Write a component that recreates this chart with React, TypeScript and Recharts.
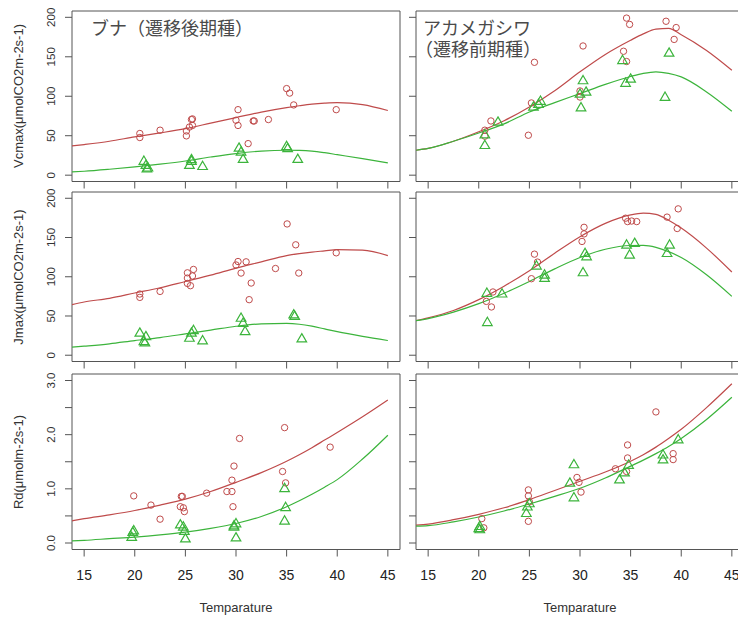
import { ComposedChart, Line, Scatter, XAxis, YAxis, ReferenceArea } from 'recharts';

// temperature grid the fitted curves were read at
const tempGrid = [13.8, 15, 17.5, 20, 22.5, 25, 27.5, 30, 32.5, 35, 36.25, 37.5, 38.75, 40, 42.5, 45];
const xTicks = [15, 20, 25, 30, 35, 40, 45];
const rateTicks = [0, 50, 100, 150, 200];
const rdTicks = [0, 0.5, 1, 1.5, 2, 2.5, 3];

type Pt = [number, number];

// ブナ Vcmax
const bunaVcmaxRed: Pt[] = [
  [20.5, 52.8], [20.5, 47.7], [22.5, 57], [25.1, 56], [25.1, 49.8], [25.4, 61], [25.6, 70.5],
  [25.7, 71.3], [25.7, 63], [30.0, 69.6], [30.2, 63], [30.2, 83], [31.2, 40], [31.7, 68.7],
  [31.8, 68.7], [33.2, 70.5], [35.0, 109.7], [35.3, 104], [35.7, 89], [39.9, 83],
];
const bunaVcmaxGreen: Pt[] = [
  [20.9, 18], [21.1, 12.7], [21.2, 8.5], [21.3, 9.5], [25.4, 12.7], [25.6, 20], [25.6, 18],
  [26.7, 11.4], [30.3, 34.6], [30.5, 29.5], [30.7, 20.3], [35.0, 36.7], [35.1, 34], [36.1, 20.3],
];
const bunaVcmaxRedCurve = [37, 38.8, 43, 48.5, 53.5, 59, 66, 73, 80, 85.7, 88, 90, 91.3, 92, 89.5, 82];
const bunaVcmaxGreenCurve = [4.2, 5, 7.5, 10.5, 14, 18, 23, 27.4, 30.5, 31.6, 31.4, 30.5, 28.5, 26, 21, 15.6];

// アカメガシワ Vcmax
const akaVcmaxRed: Pt[] = [
  [20.6, 57], [20.6, 49.4], [21.2, 68.7], [24.9, 50.6], [25.2, 91.5], [25.5, 143], [30.0, 106.7],
  [30.0, 99], [30.3, 163.7], [34.3, 157], [34.6, 199], [34.9, 191], [34.6, 144], [38.5, 195],
  [39.5, 187], [39.3, 172],
];
const akaVcmaxGreen: Pt[] = [
  [20.6, 51.5], [20.6, 38], [21.9, 67.5], [25.4, 86.5], [25.9, 90], [26.1, 94], [30.1, 85.7],
  [30.3, 120], [30.6, 105.5], [30.0, 103], [34.2, 145.6], [34.5, 116.8], [35.0, 122], [38.8, 155],
  [38.4, 99],
];
const akaVcmaxRedCurve = [31.6, 34, 43, 55, 69, 86.5, 107, 131, 153, 171, 179, 185, 186, 178, 158, 133];
const akaVcmaxGreenCurve = [31.6, 34, 43, 53.5, 65, 80, 92, 103.4, 115, 125, 129, 131, 129, 124.5, 105.5, 81];

// ブナ Jmax
const bunaJmaxRed: Pt[] = [
  [20.5, 78], [20.5, 73.7], [22.5, 81.3], [25.2, 105], [25.2, 98.3], [25.2, 91.5], [25.5, 88.6],
  [25.7, 101], [25.8, 109.3], [30.0, 115], [30.2, 119.4], [30.5, 104.7], [31.0, 119], [31.5, 92],
  [31.3, 70.8], [33.9, 110.5], [35.05, 167.3], [35.9, 140.7], [36.2, 104.7], [39.9, 130.5],
];
const bunaJmaxGreen: Pt[] = [
  [20.5, 28.5], [20.9, 17.8], [21.1, 24], [21.0, 16], [25.4, 22], [25.6, 28.5], [25.8, 31.8],
  [26.7, 18.7], [30.5, 47.5], [30.7, 41], [30.9, 30.5], [35.7, 51.7], [35.8, 50], [36.5, 21.2],
];
const bunaJmaxRedCurve = [64.4, 67.8, 72.5, 79.3, 86, 94, 102, 111, 119, 127, 129.5, 131.5, 133, 134.5, 134, 127];
const bunaJmaxGreenCurve = [10.2, 11.5, 14.5, 18.7, 22.5, 27.2, 32, 36.9, 40, 40.5, 39.5, 37, 33.5, 30, 24, 18.7];

// アカメガシワ Jmax
const akaJmaxRed: Pt[] = [
  [20.75, 68.6], [21.25, 61.5], [21.4, 80.6], [25.2, 97.5], [25.5, 128.8], [25.8, 118.7],
  [30.2, 145], [30.4, 154.6], [30.4, 163], [34.5, 174.6], [34.7, 170.3], [35.1, 171], [35.6, 170.3],
  [38.6, 176], [39.6, 161.5], [39.7, 186.5],
];
const akaJmaxGreen: Pt[] = [
  [20.85, 42], [20.8, 79.3], [22.3, 78.4], [25.7, 114], [26.5, 102.5], [26.5, 98.3], [30.3, 105.5],
  [30.5, 130], [30.65, 125.8], [34.6, 140.7], [34.9, 128], [35.4, 142.8], [38.6, 130], [38.85, 140.7],
];
const akaJmaxRedCurve = [44, 47.5, 57, 70.8, 88, 107.6, 130, 151, 168, 178.8, 181, 179.5, 172, 162, 136.5, 106];
const akaJmaxGreenCurve = [44, 46.7, 55, 65.7, 79, 94, 110, 124.5, 135, 139.8, 140, 137.5, 132, 124.5, 102.5, 75];

// ブナ Rd
const bunaRdRed: Pt[] = [
  [19.9, 0.87], [21.6, 0.7], [22.5, 0.44], [24.6, 0.86], [24.7, 0.86], [24.5, 0.67], [24.8, 0.65],
  [24.9, 0.58], [27.1, 0.92], [29.1, 0.95], [29.6, 0.95], [29.6, 1.16], [29.8, 1.42], [29.7, 0.67],
  [30.35, 1.93], [34.6, 1.32], [34.8, 2.13], [34.9, 1.11], [39.3, 1.77],
];
const bunaRdGreen: Pt[] = [
  [19.8, 0.2], [19.9, 0.23], [19.7, 0.11], [24.5, 0.34], [24.8, 0.3], [24.9, 0.22], [25.0, 0.08],
  [29.8, 0.3], [30.0, 0.36], [30.0, 0.1], [29.8, 0.32], [34.8, 1.01], [34.9, 0.66], [34.8, 0.41],
];
const bunaRdRedCurve = [0.41, 0.45, 0.52, 0.6, 0.7, 0.81, 0.95, 1.12, 1.3, 1.51, 1.63, 1.76, 1.9, 2.04, 2.33, 2.64];
const bunaRdGreenCurve = [0.04, 0.05, 0.08, 0.11, 0.15, 0.2, 0.27, 0.36, 0.49, 0.67, 0.78, 0.9, 1.03, 1.17, 1.55, 1.99];

// アカメガシワ Rd
const akaRdRed: Pt[] = [
  [20.3, 0.45], [20.5, 0.28], [24.9, 0.98], [24.9, 0.87], [25.0, 0.76], [24.9, 0.4], [29.7, 1.21],
  [29.9, 1.12], [30.1, 0.94], [33.5, 1.37], [34.7, 1.57], [34.7, 1.81], [34.6, 1.32], [37.5, 2.42],
  [39.2, 1.65], [39.2, 1.54],
];
const akaRdGreen: Pt[] = [
  [20.1, 0.31], [20.1, 0.25], [20.0, 0.27], [24.7, 0.55], [24.8, 0.67], [25.0, 0.73], [29.4, 1.45],
  [29.0, 1.11], [29.4, 0.84], [33.9, 1.17], [34.4, 1.3], [34.8, 1.44], [38.2, 1.63], [38.2, 1.54],
  [39.7, 1.91],
];
const akaRdRedCurve = [0.33, 0.35, 0.43, 0.53, 0.65, 0.8, 0.97, 1.14, 1.31, 1.51, 1.63, 1.77, 1.93, 2.1, 2.5, 2.94];
const akaRdGreenCurve = [0.31, 0.32, 0.39, 0.48, 0.59, 0.72, 0.86, 1.01, 1.2, 1.42, 1.53, 1.65, 1.78, 1.93, 2.28, 2.69];

const RED = '#bf4b4b';
const GREEN = '#3cb43c';
const BOX = '#555';
const SANS = '"Liberation Sans", Arial, sans-serif';
const CJK = '"Noto Sans CJK JP", sans-serif';

const X_DOMAIN: [number, number] = [13.8, 46.2];
const Y_AXIS_W = 70;
const TOP_PAD = 4;
const X_AXIS_H = 40;
const RIGHT_PAD = 10;
const BOX_W = 328;

const toRows = (pts: Pt[]) => pts.map(([t, v]) => ({ t, v }));
const curveRows = (vals: number[]) => tempGrid.map((t, i) => ({ t, v: vals[i] }));

const Circle = (p: any) => (
  <circle cx={p.cx} cy={p.cy} r={3.2} fill="none" stroke={RED} strokeWidth={1} />
);
const Tri = (p: any) => (
  <path
    d={`M${p.cx},${p.cy - 5}L${p.cx + 4.8},${p.cy + 3.3}L${p.cx - 4.8},${p.cy + 3.3}Z`}
    fill="none"
    stroke={GREEN}
    strokeWidth={1.2}
  />
);

interface PanelProps {
  left: number;
  top: number;
  height: number;
  yDomain: [number, number];
  yTicks: number[];
  yLabel?: (v: number) => string;
  showX: boolean;
  red: Pt[];
  green: Pt[];
  redCurve: number[];
  greenCurve: number[];
}

function Panel({ left, top, height, yDomain, yTicks, yLabel, showX, red, green, redCurve, greenCurve }: PanelProps) {
  const bottom = TOP_PAD + height;
  return (
    <div style={{ position: 'absolute', left: left - Y_AXIS_W, top: top - TOP_PAD }}>
      <ComposedChart
        width={Y_AXIS_W + BOX_W + RIGHT_PAD}
        height={bottom + X_AXIS_H}
        margin={{ top: TOP_PAD, right: RIGHT_PAD, left: 0, bottom: 0 }}
      >
        <XAxis
          type="number"
          dataKey="t"
          domain={X_DOMAIN}
          ticks={xTicks}
          interval={0}
          allowDataOverflow
          axisLine={false}
          tickLine={{ stroke: BOX }}
          tickSize={7}
          height={X_AXIS_H}
          tick={(p: any) =>
            showX ? (
              <text x={p.x} y={bottom + 25} textAnchor="middle" dominantBaseline="central"
                fontSize={14} fontFamily={SANS} fill="#222">
                {p.payload.value}
              </text>
            ) : (
              <g />
            )
          }
        />
        <YAxis
          type="number"
          domain={yDomain}
          ticks={yTicks}
          interval={0}
          allowDataOverflow
          axisLine={false}
          tickLine={{ stroke: BOX }}
          tickSize={7}
          width={Y_AXIS_W}
          tick={(p: any) => {
            const s = yLabel ? yLabel(p.payload.value) : '';
            if (!s) return <g />;
            const cx = Y_AXIS_W - 21;
            return (
              <text x={cx} y={p.y} transform={`rotate(-90, ${cx}, ${p.y})`} textAnchor="middle"
                dominantBaseline="central" fontSize={11.5} fontFamily={SANS} fill="#333">
                {s}
              </text>
            );
          }}
        />
        <ReferenceArea x1={X_DOMAIN[0]} x2={X_DOMAIN[1]} y1={yDomain[0]} y2={yDomain[1]}
          fill="none" stroke={BOX} strokeWidth={1} ifOverflow="visible" />
        <Line data={curveRows(redCurve)} dataKey="v" type="monotone" stroke={RED} strokeWidth={1.2}
          dot={false} activeDot={false} isAnimationActive={false} />
        <Line data={curveRows(greenCurve)} dataKey="v" type="monotone" stroke={GREEN} strokeWidth={1.2}
          dot={false} activeDot={false} isAnimationActive={false} />
        <Scatter data={toRows(red)} dataKey="v" shape={Circle} isAnimationActive={false} />
        <Scatter data={toRows(green)} dataKey="v" shape={Tri} isAnimationActive={false} />
      </ComposedChart>
    </div>
  );
}

const rateLabel = (v: number) => String(v);
const rdLabel = (v: number) => (Number.isInteger(v) ? v.toFixed(1) : '');

const LEFT_X = 72;
const RIGHT_X = 416;
const ROWS = [
  { top: 10.5, height: 170.5 },
  { top: 192, height: 169.5 },
  { top: 374, height: 175.5 },
];

export default function App() {
  const rateDom: [number, number] = [-8, 208];
  const rdDom: [number, number] = [-0.12, 3.12];
  return (
    <div style={{ position: 'absolute', left: 0, top: 0, width: 738, height: 618, background: '#fff', overflow: 'hidden' }}>
      <Panel left={LEFT_X} top={ROWS[0].top} height={ROWS[0].height} yDomain={rateDom} yTicks={rateTicks}
        yLabel={rateLabel} showX={false} red={bunaVcmaxRed} green={bunaVcmaxGreen}
        redCurve={bunaVcmaxRedCurve} greenCurve={bunaVcmaxGreenCurve} />
      <Panel left={RIGHT_X} top={ROWS[0].top} height={ROWS[0].height} yDomain={rateDom} yTicks={rateTicks}
        showX={false} red={akaVcmaxRed} green={akaVcmaxGreen}
        redCurve={akaVcmaxRedCurve} greenCurve={akaVcmaxGreenCurve} />
      <Panel left={LEFT_X} top={ROWS[1].top} height={ROWS[1].height} yDomain={rateDom} yTicks={rateTicks}
        yLabel={rateLabel} showX={false} red={bunaJmaxRed} green={bunaJmaxGreen}
        redCurve={bunaJmaxRedCurve} greenCurve={bunaJmaxGreenCurve} />
      <Panel left={RIGHT_X} top={ROWS[1].top} height={ROWS[1].height} yDomain={rateDom} yTicks={rateTicks}
        showX={false} red={akaJmaxRed} green={akaJmaxGreen}
        redCurve={akaJmaxRedCurve} greenCurve={akaJmaxGreenCurve} />
      <Panel left={LEFT_X} top={ROWS[2].top} height={ROWS[2].height} yDomain={rdDom} yTicks={rdTicks}
        yLabel={rdLabel} showX={true} red={bunaRdRed} green={bunaRdGreen}
        redCurve={bunaRdRedCurve} greenCurve={bunaRdGreenCurve} />
      <Panel left={RIGHT_X} top={ROWS[2].top} height={ROWS[2].height} yDomain={rdDom} yTicks={rdTicks}
        showX={true} red={akaRdRed} green={akaRdGreen}
        redCurve={akaRdRedCurve} greenCurve={akaRdGreenCurve} />

      <svg width={738} height={618} style={{ position: 'absolute', left: 0, top: 0, pointerEvents: 'none' }}>
        <g fontFamily={SANS} fontSize={13} fill="#333" textAnchor="middle">
          <text x={18} y={96} transform="rotate(-90, 18, 96)" dominantBaseline="central">Vcmax(μmolCO2m-2s-1)</text>
          <text x={18} y={277} transform="rotate(-90, 18, 277)" dominantBaseline="central">Jmax(μmolCO2m-2s-1)</text>
          <text x={18} y={462} transform="rotate(-90, 18, 462)" dominantBaseline="central">Rd(μmolm-2s-1)</text>
          <text x={236} y={607} dominantBaseline="central">Temparature</text>
          <text x={580} y={607} dominantBaseline="central">Temparature</text>
        </g>
        <g fontFamily={CJK} fontSize={18} fill="#4a4a4a" dominantBaseline="central">
          <text x={91} y={27}>ブナ（遷移後期種）</text>
          <text x={423} y={26.5}>アカメガシワ</text>
          <text x={415} y={47.5}>（遷移前期種）</text>
        </g>
      </svg>
    </div>
  );
}
